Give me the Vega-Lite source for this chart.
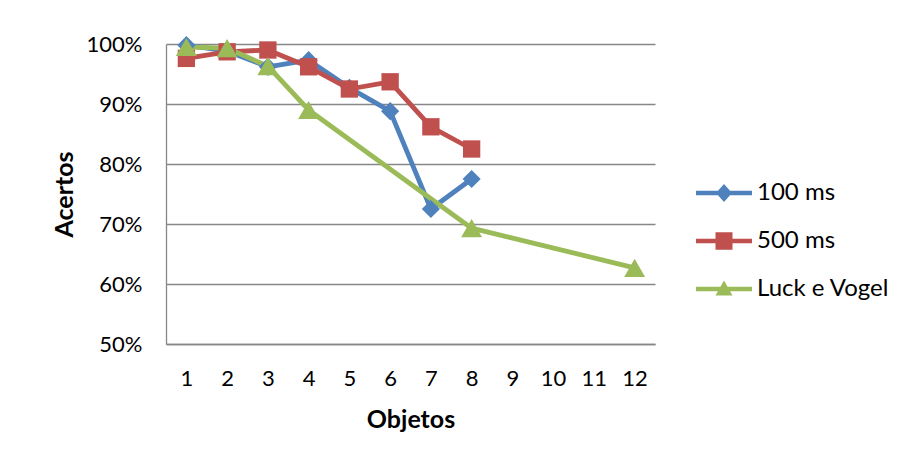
{
  "$schema": "https://vega.github.io/schema/vega-lite/v6.json",
  "width": 489,
  "height": 300,
  "autosize": {"type": "none"},
  "padding": {"left": 166, "top": 44, "right": 246, "bottom": 118},
  "background": "white",
  "config": {
    "font": "Lato",
    "view": {"stroke": null},
    "axis": {"labelColor": "#000000", "titleColor": "#000000", "labelFont": "Lato", "titleFont": "Lato"}
  },
  "data": {
    "values": [
      {"obj": 1, "serie": "100 ms", "v": 0.998},
      {"obj": 2, "serie": "100 ms", "v": 0.988},
      {"obj": 3, "serie": "100 ms", "v": 0.962},
      {"obj": 4, "serie": "100 ms", "v": 0.973},
      {"obj": 5, "serie": "100 ms", "v": 0.927},
      {"obj": 6, "serie": "100 ms", "v": 0.888},
      {"obj": 7, "serie": "100 ms", "v": 0.725},
      {"obj": 8, "serie": "100 ms", "v": 0.775},
      {"obj": 1, "serie": "500 ms", "v": 0.976},
      {"obj": 2, "serie": "500 ms", "v": 0.987},
      {"obj": 3, "serie": "500 ms", "v": 0.99},
      {"obj": 4, "serie": "500 ms", "v": 0.962},
      {"obj": 5, "serie": "500 ms", "v": 0.925},
      {"obj": 6, "serie": "500 ms", "v": 0.937},
      {"obj": 7, "serie": "500 ms", "v": 0.862},
      {"obj": 8, "serie": "500 ms", "v": 0.825},
      {"obj": 1, "serie": "Luck e Vogel", "v": 0.995},
      {"obj": 2, "serie": "Luck e Vogel", "v": 0.993},
      {"obj": 3, "serie": "Luck e Vogel", "v": 0.963},
      {"obj": 4, "serie": "Luck e Vogel", "v": 0.89},
      {"obj": 8, "serie": "Luck e Vogel", "v": 0.693},
      {"obj": 12, "serie": "Luck e Vogel", "v": 0.627}
    ]
  },
  "encoding": {
    "x": {
      "field": "obj",
      "type": "ordinal",
      "scale": {"domain": [1, 2, 3, 4, 5, 6, 7, 8, 9, 10, 11, 12], "type": "point", "padding": 0.5},
      "axis": {
        "title": "Objetos",
        "labelAngle": 0,
        "labelFontSize": 22,
        "labelPadding": 24,
        "ticks": false,
        "domain": true,
        "domainColor": "#878787",
        "domainWidth": 1.3,
        "grid": false,
        "titleFontSize": 25,
        "titleFontWeight": "bold",
        "titlePadding": 18
      }
    },
    "y": {
      "field": "v",
      "type": "quantitative",
      "scale": {"domain": [0.5, 1], "nice": false, "zero": false},
      "axis": {
        "title": "Acertos",
        "values": [0.5, 0.6, 0.7, 0.8, 0.9, 1.0],
        "format": ".0%",
        "labelFontSize": 22,
        "labelPadding": 24,
        "ticks": false,
        "domain": true,
        "domainColor": "#878787",
        "domainWidth": 1.3,
        "grid": true,
        "gridColor": "#878787",
        "gridWidth": 1.3,
        "titleFontSize": 25,
        "titleFontWeight": "bold",
        "titlePadding": 9
      }
    },
    "color": {
      "field": "serie",
      "type": "nominal",
      "scale": {"domain": ["100 ms", "500 ms", "Luck e Vogel"], "range": ["#4F81BD", "#C0504D", "#9BBB59"]},
      "legend": {
        "title": null,
        "orient": "none",
        "legendX": 528,
        "legendY": 137,
        "labelFontSize": 24,
        "labelColor": "#000000",
        "labelOffset": 39,
        "rowPadding": 24,
        "symbolSize": 400,
        "symbolType": "circle",
        "encode": {
          "symbols": {
            "update": {
              "shape": {"signal": "datum.value === '100 ms' ? 'M-1,-0.22 L4.6,-0.22 L4.6,0.22 L-1,0.22 Z M1,0 L1.8,-0.9 L2.6,0 L1.8,0.9 Z' : datum.value === '500 ms' ? 'M-1,-0.22 L4.6,-0.22 L4.6,0.22 L-1,0.22 Z M0.95,-0.87 L2.65,-0.87 L2.65,0.87 L0.95,0.87 Z' : 'M-1,-0.22 L4.6,-0.22 L4.6,0.22 L-1,0.22 Z M1.8,-0.85 L2.65,0.65 L0.95,0.65 Z'"},
              "fill": {"scale": "color", "field": "value"},
              "stroke": {"value": "transparent"},
              "strokeWidth": {"value": 0},
              "opacity": {"value": 1},
              "fillOpacity": {"value": 1}
            }
          }
        }
      }
    }
  },
  "layer": [
    {
      "mark": {"type": "line", "strokeWidth": 4.8, "strokeJoin": "round", "strokeCap": "round"}
    },
    {
      "transform": [{"filter": "datum.serie === '100 ms'"}],
      "mark": {"type": "point", "filled": true, "opacity": 1, "shape": "diamond", "size": 330}
    },
    {
      "transform": [{"filter": "datum.serie === '500 ms'"}],
      "mark": {"type": "point", "filled": true, "opacity": 1, "shape": "square", "size": 300}
    },
    {
      "transform": [{"filter": "datum.serie === 'Luck e Vogel'"}],
      "mark": {"type": "point", "filled": true, "opacity": 1, "shape": "triangle-up", "size": 440}
    }
  ]
}
